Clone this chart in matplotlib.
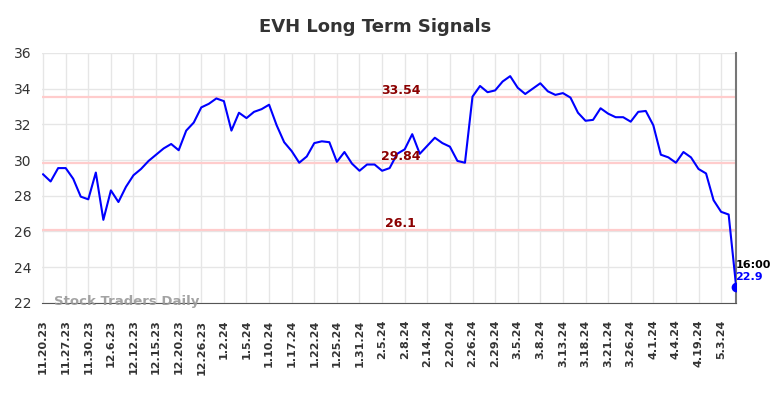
import matplotlib.pyplot as plt

# tick labels (one every 3 trading days)
tick_labels = ['11.20.23', '11.27.23', '11.30.23', '12.6.23', '12.12.23', '12.15.23',
               '12.20.23', '12.26.23', '1.2.24', '1.5.24', '1.10.24', '1.17.24',
               '1.22.24', '1.25.24', '1.31.24', '2.5.24', '2.8.24', '2.14.24',
               '2.20.24', '2.26.24', '2.29.24', '3.5.24', '3.8.24', '3.13.24',
               '3.18.24', '3.21.24', '3.26.24', '4.1.24', '4.4.24', '4.19.24', '5.3.24']

prices = [29.2, 28.8, 29.55, 29.55, 28.95, 27.95, 27.8, 29.3, 26.65, 28.3,
          27.65, 28.5, 29.15, 29.5, 29.95, 30.3, 30.65, 30.9, 30.55, 31.65,
          32.1, 32.95, 33.15, 33.45, 33.3, 31.65, 32.65, 32.35, 32.7, 32.85,
          33.1, 31.95, 31.0, 30.5, 29.85, 30.2, 30.95, 31.05, 31.0, 29.9,
          30.45, 29.8, 29.4, 29.75, 29.75, 29.4, 29.55, 30.35, 30.6, 31.45,
          30.35, 30.8, 31.25, 30.95, 30.75, 29.95, 29.85, 33.55, 34.15, 33.8,
          33.9, 34.4, 34.7, 34.05, 33.7, 34.0, 34.3, 33.85, 33.65, 33.75,
          33.5, 32.65, 32.2, 32.25, 32.9, 32.6, 32.4, 32.4, 32.15, 32.7,
          32.75, 31.95, 30.3, 30.15, 29.85, 30.45, 30.15, 29.5, 29.25, 27.75,
          27.1, 26.95, 22.9]

signal_levels = [33.54, 29.84, 26.1]
signal_labels = ['33.54', '29.84', '26.1']
last_time = '16:00'

fig = plt.figure(figsize=(7.84, 3.98), dpi=100)
ax = fig.add_axes([0.054, 0.239, 0.885, 0.628])

x = list(range(len(prices)))
ax.plot(x, prices, color='#0000ff', lw=1.5, zorder=3)
ax.plot(x[-1], prices[-1], 'o', color='#0000ff', ms=6, zorder=4)

for lvl, lab in zip(signal_levels, signal_labels):
    ax.axhline(lvl, color='#ffcccc', lw=1.6, zorder=2)
    ax.text(47.5, lvl - 0.02, lab, color='#8b0000', fontsize=9, fontweight='bold',
            ha='center', va='bottom', zorder=5)

ax.text(x[-1] - 0.1, prices[-1] + 0.95, last_time, color='black', fontsize=8,
        fontweight='bold', ha='left', va='bottom')
ax.text(x[-1] - 0.1, prices[-1] + 0.28, str(prices[-1]), color='#0000ff', fontsize=8,
        fontweight='bold', ha='left', va='bottom')

ax.text(1.5, 22.05, 'Stock Traders Daily', color='#999999', fontsize=9.5,
        fontweight='bold', ha='left', va='center', alpha=0.9)

ax.set_xlim(-0.1, len(prices) - 1)
ax.set_ylim(22, 36)
ax.set_yticks(range(22, 37, 2))
ax.set_xticks(range(0, len(prices), 3)[:len(tick_labels)])
ax.set_xticklabels(tick_labels, rotation=90, fontsize=8, fontweight='bold')
ax.tick_params(axis='both', length=0, colors='#333333')
ax.tick_params(axis='y', labelsize=10, pad=8)
ax.tick_params(axis='x', pad=12)

ax.grid(True, color='#e6e6e6', lw=1)
ax.set_axisbelow(True)
for s in ['top', 'left']:
    ax.spines[s].set_visible(False)
ax.spines['right'].set_color('#777777')
ax.spines['right'].set_linewidth(1.5)
ax.spines['bottom'].set_color('#555555')

fig.suptitle('EVH Long Term Signals', x=0.478, y=0.955, fontsize=13,
             fontweight='bold', color='#333333')

fig.savefig('out.png', dpi=100)
